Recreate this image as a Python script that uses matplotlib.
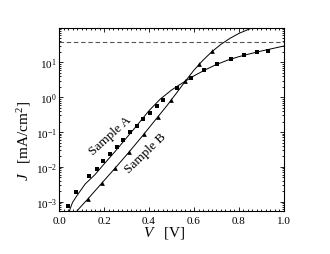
import matplotlib
matplotlib.use("Agg")
import matplotlib.pyplot as plt
from matplotlib.ticker import MultipleLocator, LogLocator, NullFormatter

plt.rcParams['font.family'] = ['Liberation Serif', 'DejaVu Serif']
plt.rcParams['mathtext.fontset'] = 'custom'
plt.rcParams['mathtext.rm'] = 'Liberation Serif'
plt.rcParams['mathtext.it'] = 'Liberation Serif:italic'

# measured points, sample A (squares)
v_a = [0.04, 0.076, 0.135, 0.167, 0.197, 0.227, 0.256, 0.286, 0.316, 0.345, 0.375,
       0.404, 0.434, 0.464, 0.526, 0.585, 0.644, 0.704, 0.763, 0.822, 0.881, 0.93]
j_a = [7.7e-4, 1.86e-3, 5.5e-3, 8.9e-3, 1.45e-2, 2.34e-2, 3.8e-2, 6.0e-2, 9.9e-2, 0.15, 0.24,
       0.36, 0.55, 0.83, 1.78, 3.6, 6.2, 9.1, 12.2, 15.9, 19.4, 21.5]

# measured points, sample B (triangles)
v_b = [0.13, 0.19, 0.249, 0.31, 0.378, 0.44, 0.499, 0.559, 0.621, 0.68]
j_b = [1.2e-3, 3.4e-3, 9.3e-3, 2.6e-2, 8.9e-2, 0.27, 0.83, 3.0, 8.8, 21]

# fitted curves
v_fit_a = [0.045, 0.06, 0.08, 0.116, 0.16, 0.20, 0.25, 0.30, 0.35, 0.40, 0.45, 0.50,
           0.53, 0.56, 0.60, 0.65, 0.70, 0.75, 0.80, 0.85, 0.90, 0.95, 1.00]
j_fit_a = [5.2e-4, 9.5e-4, 1.5e-3, 3.2e-3, 6.0e-3, 1.2e-2, 2.8e-2, 6.8e-2, 0.165, 0.41, 0.88, 1.6,
           2.15, 2.85, 4.1, 6.1, 8.7, 11.6, 14.6, 17.7, 21.2, 25.0, 29.5]

v_fit_b = [0.075, 0.10, 0.13, 0.19, 0.25, 0.31, 0.37, 0.43, 0.48, 0.52, 0.56, 0.60,
           0.64, 0.68, 0.72, 0.76, 0.80, 0.85, 0.90]
j_fit_b = [5.0e-4, 7.6e-4, 1.23e-3, 3.4e-3, 9.3e-3, 2.6e-2, 7.6e-2, 0.23, 0.575, 1.26, 2.8, 6.0,
           11.5, 20.4, 33, 49, 68, 93, 120]

j_limit = 39  # dashed line

fig = plt.figure(figsize=(3.3, 2.55), dpi=100)
ax = fig.add_axes([0.1788, 0.1686, 0.6818, 0.7165])

ax.plot(v_fit_a, j_fit_a, color="black", lw=0.7)
ax.plot(v_fit_b, j_fit_b, color="black", lw=0.7)
ax.plot(v_a, j_a, "s", color="black", ms=2.7, mew=0)
ax.plot(v_b, j_b, "^", color="black", ms=3.4, mew=0)
ax.axhline(j_limit, color="#555555", lw=0.8, ls=(0, (4, 2.5)))

ax.set_yscale("log")
ax.set_xlim(0, 1.0)
ax.set_ylim(5.4e-4, 95)
ax.xaxis.set_major_locator(MultipleLocator(0.2))
ax.xaxis.set_minor_locator(MultipleLocator(0.02))
ax.xaxis.set_major_formatter(plt.FuncFormatter(lambda x, p: "%.1f" % x))
ax.yaxis.set_major_locator(LogLocator(base=10, numticks=10))
ax.yaxis.set_minor_locator(LogLocator(base=10, subs=range(2, 10), numticks=20))
ax.yaxis.set_minor_formatter(NullFormatter())

ax.tick_params(which="both", direction="in", top=True, right=True, labelsize=8, width=0.6)
ax.tick_params(axis="x", pad=3.5)
ax.tick_params(axis="y", pad=1.5)
ax.tick_params(which="major", length=3)
ax.tick_params(which="minor", length=1.6)
for s in ax.spines.values():
    s.set_linewidth(0.8)

ax.set_xlabel("$V\\quad$[V]", fontsize=11)
ax.set_ylabel("$J\\quad$[mA/cm$^2$]", fontsize=11)
ax.xaxis.set_label_coords(0.467, -0.072)
ax.yaxis.set_label_coords(-0.115, 0.39)

ax.text(0.23, 0.080, "Sample A", rotation=42, fontsize=9.5, ha="center", va="center")
ax.text(0.387, 0.026, "Sample B", rotation=44, fontsize=9.5, ha="center", va="center")

fig.savefig("out.png", dpi=100)
